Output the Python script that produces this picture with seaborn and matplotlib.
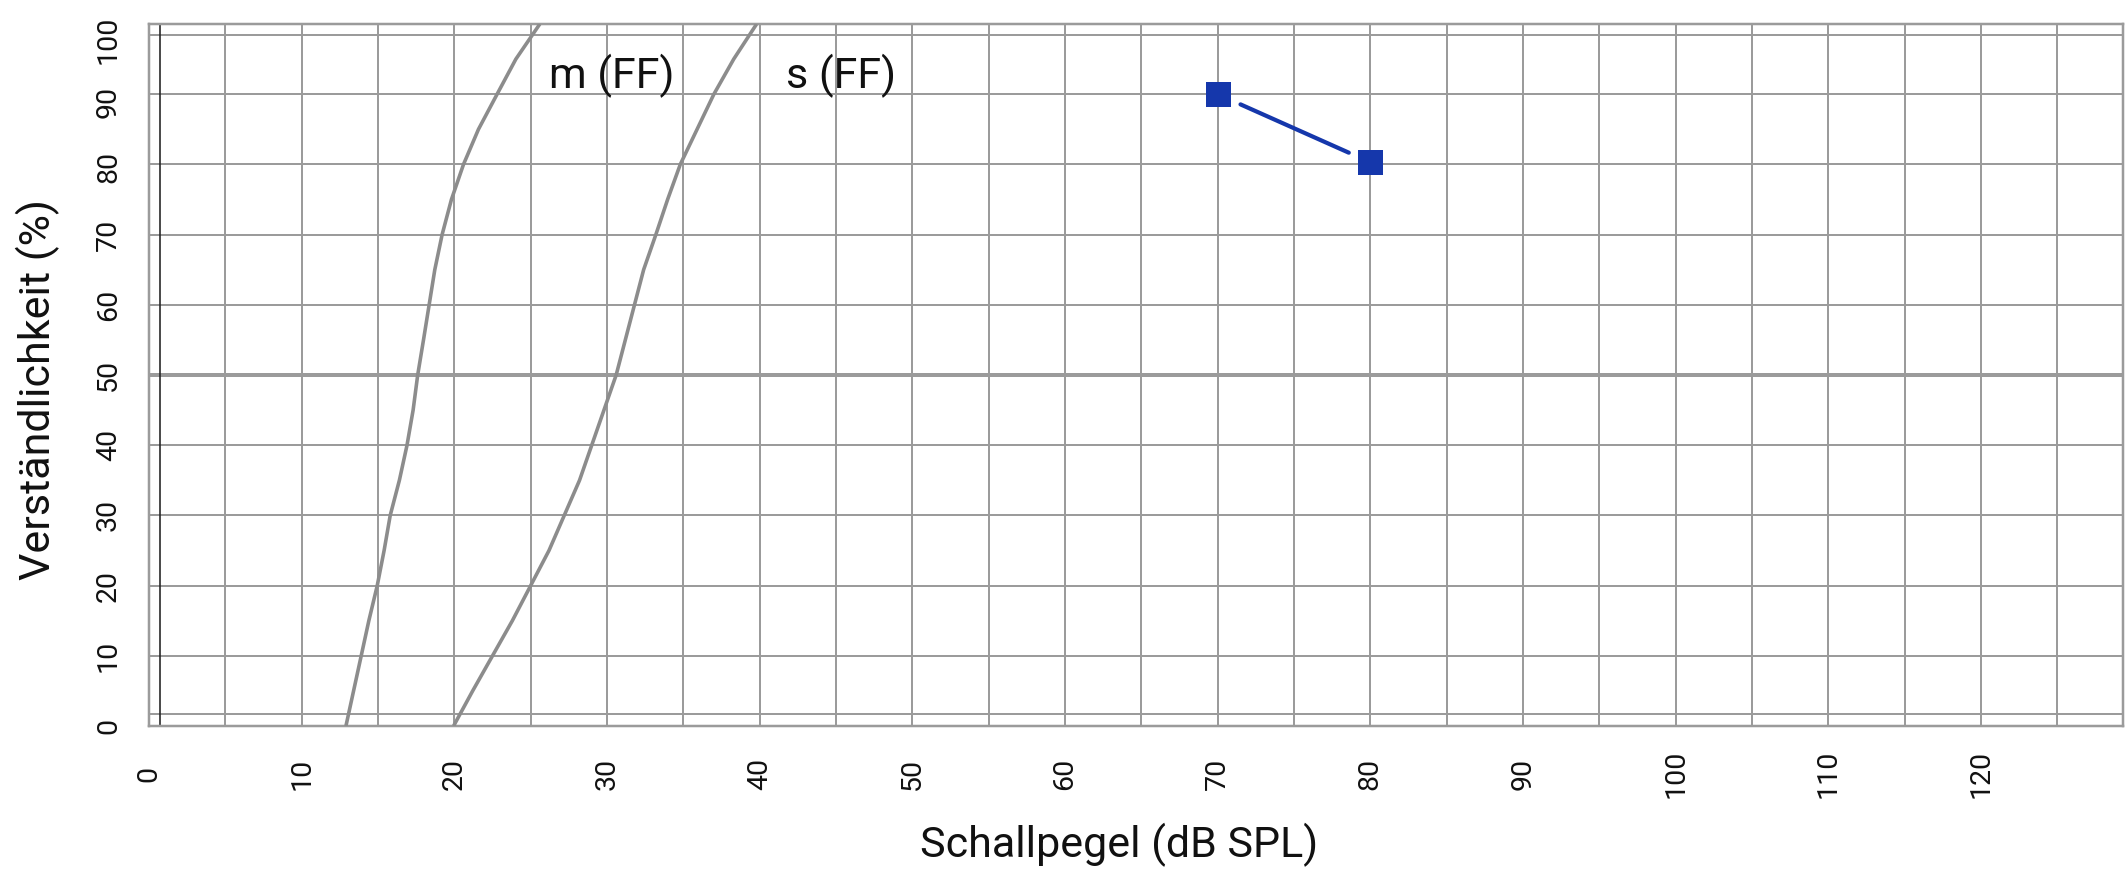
import numpy as np
import pandas as pd
import matplotlib
matplotlib.use("Agg")
import matplotlib.pyplot as plt
import matplotlib.transforms as mtransforms
import seaborn as sns

# ---- data -------------------------------------------------------------
pct_levels = [0, 5, 10, 15, 20, 25, 30, 35, 40, 45, 50, 55, 60, 65, 70, 75,
              80, 85, 90, 95, 100]
m_ff_db = [12.9, 13.4, 13.9, 14.4, 14.95, 15.4, 15.8, 16.4, 16.9, 17.3, 17.6,
           17.98, 18.35, 18.72, 19.2, 19.81, 20.6, 21.58, 22.8, 24.03, 25.6]
s_ff_db = [19.95, 21.2, 22.5, 23.8, 25.0, 26.2, 27.2, 28.2, 29.0, 29.8, 30.6,
           31.2, 31.8, 32.4, 33.2, 33.97, 34.8, 35.9, 37.0, 38.3, 39.8]
meas_db = [70, 80]
meas_pct = [90, 80.3]
curve_labels = ["m (FF)", "s (FF)"]
curve_label_x = [26.2, 41.7]
curve_label_y = [90.9, 90.9]
x_ticks = list(range(0, 130, 10))
y_ticks = list(range(0, 110, 10))
x_label = "Schallpegel (dB SPL)"
y_label = "Verständlichkeit (%)"

# ---- style ------------------------------------------------------------
sns.set_theme(style="white")
plt.rcParams["font.family"] = ["Roboto", "DejaVu Sans"]

GRID = "#9b9b9b"
BLUE = "#1537ab"
CURVE = "#8c8c8c"
TXT = "#111111"
PX = 72 / 100  # points per pixel at dpi 100

W, H = 2126, 871
fig = plt.figure(figsize=(W / 100, H / 100), dpi=100)
ax = fig.add_axes([149 / W, 1 - 726 / H, 1974 / W, 702 / H])

ax.set_xlim(0, 129.3)
ax.set_ylim(0, 100)

# grid
ax.set_xticks(np.arange(0, 130, 5))
ax.set_xticklabels([str(v) if v in x_ticks else "" for v in np.arange(0, 130, 5)])
ax.set_yticks(y_ticks)
ax.set_yticklabels([str(v) for v in y_ticks])
ax.grid(True, color=GRID, lw=2 * PX, zorder=0)
ax.set_axisbelow(True)
ax.axhline(50, color=GRID, lw=4 * PX, zorder=1)
ax.axhline(1.7, color=GRID, lw=2 * PX, zorder=1)
ax.axhline(98.4, color=GRID, lw=2 * PX, zorder=1)
ax.axvline(0.75, color="#222222", lw=1.6 * PX, zorder=1)

for sp in ax.spines.values():
    sp.set_color(GRID)
    sp.set_linewidth(2.5 * PX)

ax.tick_params(axis="x", length=0, pad=34.5, labelsize=20.5, labelcolor=TXT,
               labelrotation=90)
ax.tick_params(axis="y", length=0, pad=29.2, labelsize=20.5, labelcolor=TXT,
               labelrotation=90)
for lab in ax.get_xticklabels():
    lab.set_va("center")
    lab.set_ha("center")
for lab in ax.get_yticklabels():
    lab.set_va("center")
    lab.set_ha("center")

# nudge the top y labels down like the reference
offsets = {100: -16, 90: -8, 80: -3}
for tick, val in zip(ax.yaxis.get_major_ticks(), y_ticks):
    if val in offsets:
        tr = tick.label1.get_transform() + mtransforms.ScaledTranslation(
            0, offsets[val] / 100, fig.dpi_scale_trans)
        tick.label1.set_transform(tr)

# curves
df_m = pd.DataFrame({"db": m_ff_db, "pct": pct_levels})
df_s = pd.DataFrame({"db": s_ff_db, "pct": pct_levels})
for d in (df_m, df_s):
    sns.lineplot(data=d, x="db", y="pct", sort=False, color=CURVE,
                 lw=3.6 * PX, ax=ax, zorder=3)
for ln in ax.lines[-2:]:
    ln.set_solid_joinstyle("round")
    ln.set_solid_capstyle("butt")

for t, tx, ty in zip(curve_labels, curve_label_x, curve_label_y):
    ax.text(tx, ty, t, fontsize=31, color=TXT, ha="left", va="baseline", zorder=4)

# measured points
df_meas = pd.DataFrame({"db": meas_db, "pct": meas_pct})
ax.annotate("", xy=(meas_db[1], meas_pct[1]), xytext=(meas_db[0], meas_pct[0]),
            arrowprops=dict(arrowstyle="-", color=BLUE, lw=4.2 * PX,
                            shrinkA=18, shrinkB=17), zorder=4)
sns.scatterplot(data=df_meas, x="db", y="pct", marker="s", s=(25 * PX) ** 2,
                color=BLUE, edgecolor=BLUE, linewidth=0, ax=ax, zorder=5)

# axis labels
ax.set_xlabel(x_label, fontsize=31, color=TXT, va="baseline")
ax.xaxis.set_label_coords((1119.5 - 149) / 1974, (726 - 857) / 702)
ax.set_ylabel(y_label, fontsize=31, color=TXT, va="center", rotation=90)
ax.yaxis.set_label_coords((38 - 149) / 1974, (726 - 390) / 702)

fig.savefig("out.png", dpi=100)
